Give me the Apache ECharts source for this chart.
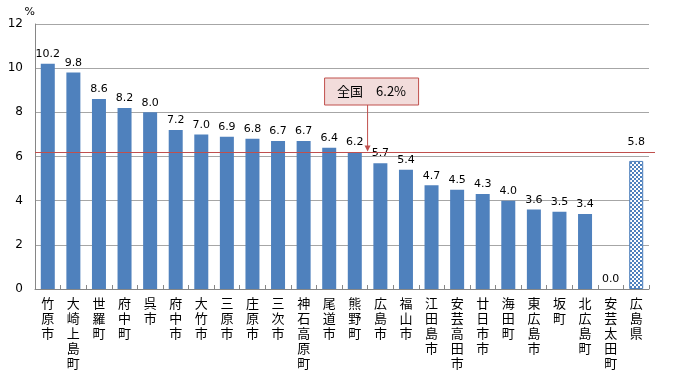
<!DOCTYPE html>
<html><head><meta charset="utf-8">
<script src="https://cdn.jsdelivr.net/npm/echarts@6/dist/echarts.min.js"></script>
<style>html,body{margin:0;padding:0;background:#fff}#c{width:680px;height:371px}</style>
</head><body><div id="c"></div>
<script>
const categories = ['竹原市','大崎上島町','世羅町','府中町','呉市','府中市','大竹市','三原市','庄原市','三次市','神石高原町','尾道市','熊野町','広島市','福山市','江田島市','安芸高田市','廿日市市','海田町','東広島市','坂町','北広島町','安芸太田町','広島県'];
const values = [10.2,9.8,8.6,8.2,8.0,7.2,7.0,6.9,6.8,6.7,6.7,6.4,6.2,5.7,5.4,4.7,4.5,4.3,4.0,3.6,3.5,3.4,0.0,5.8];
const nationalValue = 6.2;
const nationalLabel = '全国　6.2%';

const last = values.length - 1;
const pc = document.createElement('canvas');
pc.width = 4; pc.height = 4;
const g = pc.getContext('2d');
g.fillStyle = '#fff'; g.fillRect(0,0,4,4);
g.fillStyle = '#4F81BD';
g.fillRect(0,0,2,2); g.fillRect(2,2,2,2);

const municipal = values.map((v,i)=> i===last ? '-' : v);
const prefecture = values.map((v,i)=> i===last ? v : '-');

const chart = echarts.init(document.getElementById('c'));
const numFont = '"DejaVu Sans", sans-serif';
const lbl = {show:true,position:'top',distance:4,color:'#000',fontSize:11,fontFamily:numFont,formatter:p=>Number(p.value).toFixed(1)};
chart.setOption({
  animation:false,
  grid:{left:35,right:31,top:24,bottom:80},
  xAxis:{type:'category',data:categories,
    axisLine:{lineStyle:{color:'#868686'}},
    axisTick:{show:true,length:4,inside:true,lineStyle:{color:'#868686'}},
    axisLabel:{interval:0,margin:7,color:'#000',fontFamily:'"Noto Sans CJK JP"',fontSize:13,lineHeight:15,verticalAlign:'top',
      formatter:s=>s.split('').join('\n')}},
  yAxis:{type:'value',min:0,max:12,interval:2,name:'%',nameGap:6,nameTextStyle:{color:'#000',fontSize:11,fontFamily:numFont,align:'right'},
    axisLine:{show:true,lineStyle:{color:'#868686'}},axisTick:{show:false},
    axisLabel:{color:'#000',fontSize:12,fontFamily:numFont,margin:12},
    splitLine:{lineStyle:{color:'#A6A6A6'}}},
  series:[
    {type:'bar',data:municipal,barWidth:14,barGap:'-100%',itemStyle:{color:'#4F81BD'},label:lbl},
    {type:'bar',data:prefecture,barWidth:14,barGap:'-100%',itemStyle:{color:{image:pc,repeat:'repeat'},borderColor:'#4F81BD',borderWidth:1},label:{show:false}},
    {type:'bar',data:prefecture,barWidth:14,barGap:'-100%',itemStyle:{color:'rgba(0,0,0,0)'},label:Object.assign({},lbl,{distance:13})}
  ]
});

function drawCallout(){
  const p1 = chart.convertToPixel({xAxisIndex:0,yAxisIndex:0},[12,nationalValue]);
  const p2 = chart.convertToPixel({xAxisIndex:0,yAxisIndex:0},[13,nationalValue]);
  const x = (p1[0]+p2[0])/2;
  const y = Math.round(p1[1]) + 0.5;
  const bw = 94, bh = 27, by = 78;
  chart.setOption({graphic:[
    {type:'line',shape:{x1:35,y1:y,x2:655,y2:y},style:{stroke:'#C0504D',lineWidth:1},z:90},
    {type:'rect',shape:{x:x-43,y:by,width:bw,height:bh},style:{fill:'#F2DCDB',stroke:'#C0504D',lineWidth:1},z:100},
    {type:'text',style:{x:x+4,y:by+bh/2,text:nationalLabel,textAlign:'center',textVerticalAlign:'middle',fill:'#000',font:'13px "Noto Sans CJK JP"'},z:101},
    {type:'line',shape:{x1:x,y1:by+bh,x2:x,y2:y-2},style:{stroke:'#C0504D',lineWidth:1},z:100},
    {type:'polygon',shape:{points:[[x-3,y-7],[x+3,y-7],[x,y-1]]},style:{fill:'#C0504D'},z:100}
  ]});
}
drawCallout();
</script></body></html>
